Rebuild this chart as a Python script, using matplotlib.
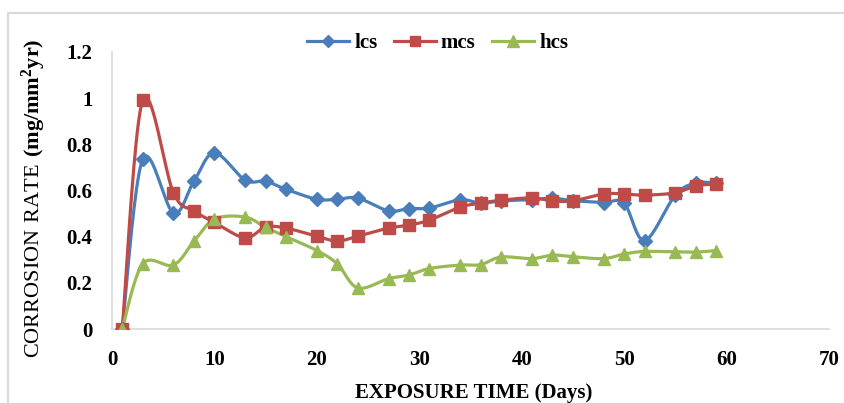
import numpy as np
import matplotlib
matplotlib.use("Agg")
import matplotlib.pyplot as plt
from matplotlib.patches import Rectangle

# data
days = [1, 3, 6, 8, 10, 13, 15, 17, 20, 22, 24, 27, 29, 31, 34, 36, 38, 41, 43, 45, 48, 50, 52, 55, 57, 59]
lcs = [0, 0.735, 0.503, 0.64, 0.763, 0.645, 0.64, 0.605, 0.562, 0.562, 0.567, 0.512, 0.522, 0.524,
       0.56, 0.545, 0.555, 0.56, 0.567, 0.556, 0.548, 0.545, 0.383, 0.58, 0.632, 0.632]
mcs = [0, 0.99, 0.59, 0.512, 0.462, 0.395, 0.442, 0.437, 0.402, 0.381, 0.402, 0.437, 0.45, 0.472,
       0.528, 0.545, 0.558, 0.568, 0.555, 0.555, 0.585, 0.585, 0.58, 0.59, 0.62, 0.628]
hcs = [0, 0.282, 0.277, 0.38, 0.476, 0.485, 0.44, 0.4, 0.34, 0.282, 0.178, 0.218, 0.234, 0.262,
       0.277, 0.279, 0.312, 0.305, 0.32, 0.313, 0.305, 0.325, 0.336, 0.334, 0.333, 0.34]
xticks = [0, 10, 20, 30, 40, 50, 60, 70]
yticks = [0, 0.2, 0.4, 0.6, 0.8, 1.0, 1.2]
yticklabels = ["0", "0.2", "0.4", "0.6", "0.8", "1", "1.2"]

plt.rcParams['font.family'] = ['Liberation Serif', 'DejaVu Serif']
plt.rcParams['mathtext.fontset'] = 'custom'
plt.rcParams['mathtext.rm'] = 'Liberation Serif'
plt.rcParams['mathtext.bf'] = 'Liberation Serif:bold'


def smooth(x, y, n=20):
    # Excel-like smoothed line (Catmull-Rom through the points)
    x = np.asarray(x, float)
    y = np.asarray(y, float)
    px = np.concatenate([[x[0]], x, [x[-1]]])
    py = np.concatenate([[y[0]], y, [y[-1]]])
    t = np.linspace(0, 1, n, endpoint=False)
    xs, ys = [], []
    for i in range(1, len(px) - 2):
        p0, p1, p2, p3 = px[i - 1], px[i], px[i + 1], px[i + 2]
        q0, q1, q2, q3 = py[i - 1], py[i], py[i + 1], py[i + 2]
        # bezier control points
        c1x, c1y = p1 + (p2 - p0) / 6, q1 + (q2 - q0) / 6
        c2x, c2y = p2 - (p3 - p1) / 6, q2 - (q3 - q1) / 6
        a = (1 - t) ** 3
        b = 3 * (1 - t) ** 2 * t
        c = 3 * (1 - t) * t ** 2
        d = t ** 3
        xs.append(a * p1 + b * c1x + c * c2x + d * p2)
        ys.append(a * q1 + b * c1y + c * c2y + d * q2)
    xs.append([x[-1]])
    ys.append([y[-1]])
    return np.concatenate(xs), np.concatenate(ys)


fig = plt.figure(figsize=(8.45, 4.03), dpi=100)
ax = fig.add_axes([0.1325, 0.1836, 0.8485, 0.6874])

series = [
    ("lcs", lcs, "#4A7EBB", "D", 7.5),
    ("mcs", mcs, "#BE4B48", "s", 8.5),
    ("hcs", hcs, "#98B954", "^", 9),
]
for name, vals, col, mk, ms in series:
    sx, sy = smooth(days, vals)
    ax.plot(sx, sy, color=col, lw=2.3, solid_capstyle='round', zorder=2)
    ax.plot(days, vals, ls='none', marker=mk, ms=ms, color=col, zorder=3)
    ax.plot([], [], color=col, lw=2.3, marker=mk, ms=ms - 1, label=name)

ax.set_xlim(0, 70)
ax.set_ylim(0, 1.2)
ax.set_xticks(xticks)
ax.set_yticks(yticks)
ax.set_yticklabels(yticklabels)
ax.tick_params(length=0, labelsize=15)
ax.tick_params(axis='x', pad=15)
ax.tick_params(axis='y', pad=14)
for lab in ax.get_xticklabels() + ax.get_yticklabels():
    lab.set_fontweight('bold')

for s in ['top', 'right']:
    ax.spines[s].set_visible(False)
for s in ['left', 'bottom']:
    ax.spines[s].set_color('#D9D9D9')
    ax.spines[s].set_linewidth(1.2)

fig.text(0.56, 0.025, "EXPOSURE TIME (Days)", ha='center', va='center',
         fontsize=15, fontweight='bold')
fig.text(0.04, 0.509, r"$\mathrm{CORROSION\ RATE\ }\mathbf{(mg/mm^{2}yr)}$",
         rotation=90, ha='center', va='center', fontsize=16)

leg = fig.legend(loc='center', bbox_to_anchor=(0.518, 0.893), ncol=3, frameon=False,
                 prop={'weight': 'bold', 'size': 15}, handlelength=2.0,
                 handletextpad=0.25, columnspacing=0.8)

# outer chart border
fig.patches.append(Rectangle((8 / 845, -0.05), 1.0, 1 - 13 / 403 + 0.05,
                             transform=fig.transFigure, fill=False,
                             edgecolor='#D9D9D9', lw=1.5))

fig.savefig("out.png", dpi=100)
